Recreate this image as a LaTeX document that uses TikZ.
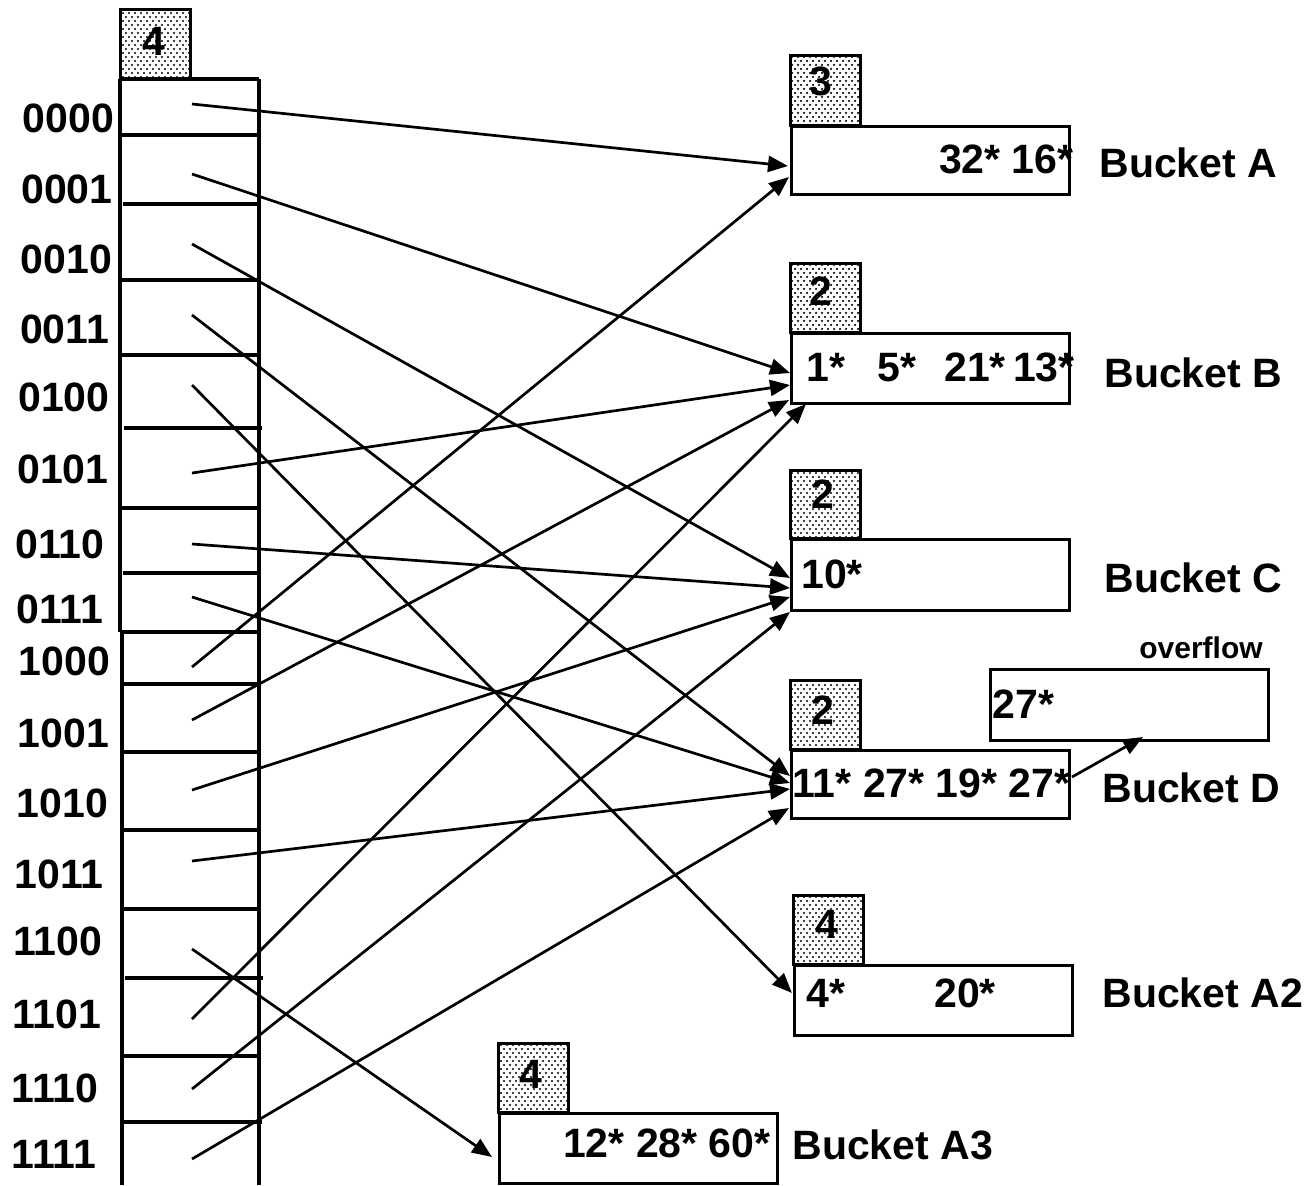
\documentclass[tikz,border=0pt]{standalone}
\usepackage{fontspec}
\setmainfont{Liberation Sans}
\usetikzlibrary{arrows.meta,patterns}
\pgfdeclarepatternformonly{sparsedots}{\pgfqpoint{-1pt}{-1pt}}{\pgfqpoint{4pt}{5pt}}{\pgfqpoint{3pt}{4pt}}{%
  \pgfpathcircle{\pgfqpoint{0pt}{0pt}}{0.62pt}%
  \pgfpathcircle{\pgfqpoint{1.5pt}{2pt}}{0.62pt}%
  \pgfusepath{fill}}
\tikzset{
  lbl/.style={font=\bfseries\fontsize{20.5}{24}\selectfont, inner sep=0pt},
  smalllbl/.style={font=\bfseries\fontsize{15}{18}\selectfont, inner sep=0pt},
  bucketbox/.style={draw, line width=1.5pt, inner sep=0pt, anchor=north west, minimum width=139pt},
  ptr/.style={line width=1.35pt, -{Triangle[length=10pt,width=8pt]}},
  depthbox/.style={draw, line width=1.5pt, pattern=sparsedots},
  sepline/.style={line width=1.6pt}
}
\begin{document}
\begin{tikzpicture}[x=0.5pt,y=-0.5pt]
\useasboundingbox (0,0) rectangle (1308,1185);
\fill[white] (0,0) rectangle (1308,1185);

% ---------- directory ----------
\draw[depthbox] (120,9) rectangle (190,79);
\node[lbl, anchor=base] (gdepth) at (154,55) {4};
\draw[sepline] (120,79) -- (259,79);
\draw[sepline] (120,79) -- (120,632);
\draw[sepline] (122,632) -- (122,1185);
\draw[sepline] (259,79) -- (259,1185);
\draw[sepline] (120,632) -- (261,632);
\draw[sepline] (120,135) -- (259,135);
\draw[sepline] (123,204) -- (261,204);
\draw[sepline] (120,280) -- (258,280);
\draw[sepline] (120,355) -- (259,355);
\draw[sepline] (124,428) -- (262,428);
\draw[sepline] (120,508) -- (258,508);
\draw[sepline] (123,573) -- (261,573);
\draw[sepline] (122,684) -- (260,684);
\draw[sepline] (122,752) -- (260,752);
\draw[sepline] (123,830) -- (260,830);
\draw[sepline] (122,909) -- (261,909);
\draw[sepline] (125,978) -- (263,978);
\draw[sepline] (123,1056) -- (260,1056);
\draw[sepline] (124,1122) -- (262,1122);

% directory labels
\node[lbl, anchor=base] (l0000) at (68.5,132) {0000};
\node[lbl, anchor=base] (l0001) at (67,203) {0001};
\node[lbl, anchor=base] (l0010) at (66.5,273) {0010};
\node[lbl, anchor=base] (l0011) at (64.5,343) {0011};
\node[lbl, anchor=base] (l0100) at (64,411) {0100};
\node[lbl, anchor=base] (l0101) at (63,483) {0101};
\node[lbl, anchor=base] (l0110) at (60,558) {0110};
\node[lbl, anchor=base] (l0111) at (60,623) {0111};
\node[lbl, anchor=base] (l1000) at (64.5,675) {1000};
\node[lbl, anchor=base] (l1001) at (63.5,747) {1001};
\node[lbl, anchor=base] (l1010) at (62.5,817) {1010};
\node[lbl, anchor=base] (l1011) at (59,888) {1011};
\node[lbl, anchor=base] (l1100) at (57.5,955) {1100};
\node[lbl, anchor=base] (l1101) at (56.5,1028) {1101};
\node[lbl, anchor=base] (l1110) at (55,1102) {1110};
\node[lbl, anchor=base] (l1111) at (54,1168) {1111};

% ---------- buckets ----------
% A
\draw[depthbox] (790,55) rectangle (860,125);
\node[lbl, anchor=base] (dA) at (821,95) {3};
\node[bucketbox, minimum height=34pt] (bA) at (790,125) {};
\node[lbl, anchor=base east] (cA) at (1074,173) {32* 16*};
\node[lbl, anchor=base west] (nA) at (1099,177) {Bucket A};
% B
\draw[depthbox] (790,263) rectangle (860,332);
\node[lbl, anchor=base] (dB) at (821,305) {2};
\node[bucketbox, minimum height=35pt] (bB) at (790,332) {};
\node[lbl, anchor=base west] (cB1) at (806,381) {1*};
\node[lbl, anchor=base west] (cB2) at (877,381) {5*};
\node[lbl, anchor=base west] (cB3) at (944,381) {21*};
\node[lbl, anchor=base east] (cB4) at (1075,381) {13*};
\node[lbl, anchor=base west] (nB) at (1104,387) {Bucket B};
% C
\draw[depthbox] (790,470) rectangle (860,538);
\node[lbl, anchor=base] (dC) at (823,508) {2};
\node[bucketbox, minimum height=35.5pt] (bC) at (790,538) {};
\node[lbl, anchor=base west] (cC) at (801,588) {10*};
\node[lbl, anchor=base west] (nC) at (1104,592) {Bucket C};
% D
\draw[depthbox] (790,680) rectangle (860,749);
\node[lbl, anchor=base] (dD) at (823,724) {2};
\node[bucketbox, minimum height=34pt] (bD) at (790,749) {};
\node[lbl, anchor=base west] (cD) at (792,797) {11* 27* 19* 27*};
\node[lbl, anchor=base west] (nD) at (1102,802) {Bucket D};
% overflow
\node[smalllbl, anchor=base] (ovl) at (1201,658) {overflow};
\node[bucketbox, minimum height=35.5pt] (bO) at (989,668) {};
\node[lbl, anchor=base west] (cO) at (992,718) {27*};
% A2
\draw[depthbox] (793,895) rectangle (863,964);
\node[lbl, anchor=base] (dA2) at (827,938) {4};
\node[bucketbox, minimum height=35pt] (bA2) at (793,964) {};
\node[lbl, anchor=base west] (cA2a) at (806,1007) {4*};
\node[lbl, anchor=base west] (cA2b) at (934,1007) {20*};
\node[lbl, anchor=base west] (nA2) at (1102,1007) {Bucket A2};
% A3
\draw[depthbox] (498,1043) rectangle (568,1112);
\node[lbl, anchor=base] (dA3) at (531,1088) {4};
\node[bucketbox, minimum height=35pt] (bA3) at (498,1112) {};
\node[lbl, anchor=base east] (cA3) at (771,1157) {12* 28* 60*};
\node[lbl, anchor=base west] (nA3) at (792,1159) {Bucket A3};

% ---------- pointer coordinates ----------
\coordinate (s0) at (192,104);
\coordinate (s1) at (192,174);
\coordinate (s2) at (192,244);
\coordinate (s3) at (192,315);
\coordinate (s4) at (192,385);
\coordinate (s5) at (192,473);
\coordinate (s6) at (192,544);
\coordinate (s7) at (192,597);
\coordinate (s8) at (192,667);
\coordinate (s9) at (192,720);
\coordinate (s10) at (192,790);
\coordinate (s11) at (192,861);
\coordinate (s12) at (192,949);
\coordinate (s13) at (192,1019);
\coordinate (s14) at (192,1089);
\coordinate (s15) at (192,1159);

\coordinate (tA1) at (788,166);
\coordinate (tA2) at (789,177);
\coordinate (tB1) at (790,373);
\coordinate (tB2) at (790,385);
\coordinate (tB3) at (789,400);
\coordinate (tB4) at (806,404);
\coordinate (tC1) at (790,578);
\coordinate (tC2) at (790,588);
\coordinate (tC3) at (790,597);
\coordinate (tC4) at (790,612);
\coordinate (tD1) at (790,776);
\coordinate (tD2) at (790,783);
\coordinate (tD3) at (790,789);
\coordinate (tD4) at (789,808);
\coordinate (tA2a) at (792,993);
\coordinate (tA3) at (492,1157);
\coordinate (oS) at (1072,777);
\coordinate (oT) at (1143,737);

\draw[ptr] (s0) -- (tA1);
\draw[ptr] (s1) -- (tB1);
\draw[ptr] (s2) -- (tC1);
\draw[ptr] (s3) -- (tD1);
\draw[ptr] (s4) -- (tA2a);
\draw[ptr] (s5) -- (tB2);
\draw[ptr] (s6) -- (tC2);
\draw[ptr] (s7) -- (tD2);
\draw[ptr] (s8) -- (tA2);
\draw[ptr] (s9) -- (tB3);
\draw[ptr] (s10) -- (tC3);
\draw[ptr] (s11) -- (tD3);
\draw[ptr] (s12) -- (tA3);
\draw[ptr] (s13) -- (tB4);
\draw[ptr] (s14) -- (tC4);
\draw[ptr] (s15) -- (tD4);
\draw[ptr] (oS) -- (oT);
\end{tikzpicture}
\end{document}
